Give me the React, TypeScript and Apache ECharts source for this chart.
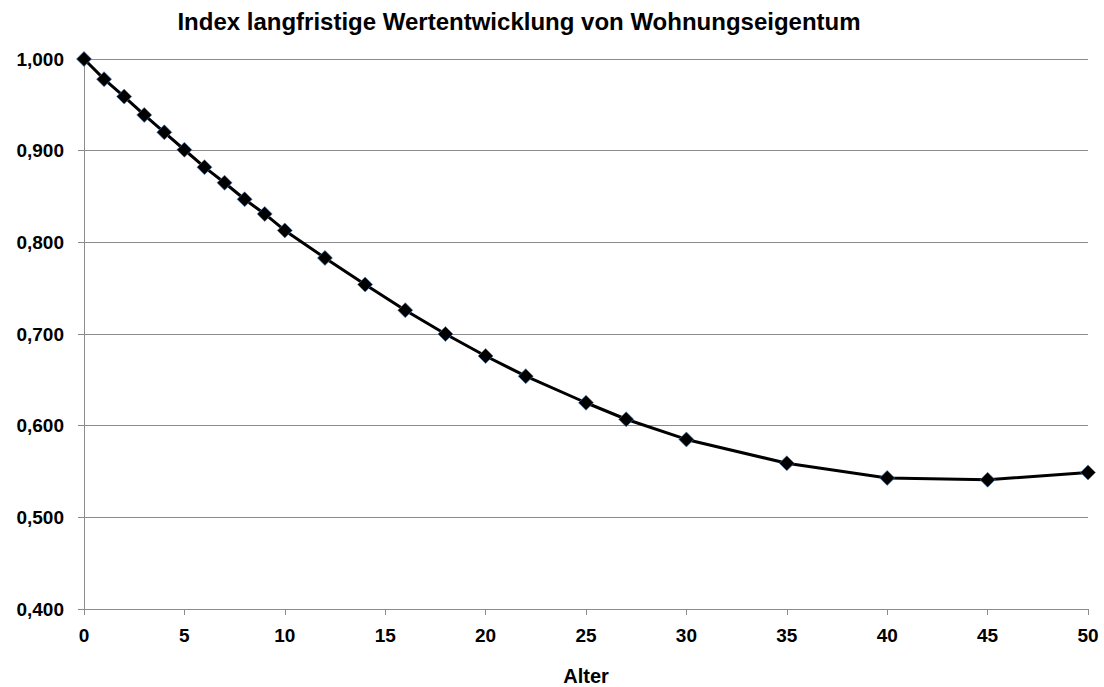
import React, { useEffect, useRef } from "react";
import * as echarts from "echarts";

const titleText = "Index langfristige Wertentwicklung von Wohnungseigentum";
const xAxisName = "Alter";
const ages = [0, 1, 2, 3, 4, 5, 6, 7, 8, 9, 10, 12, 14, 16, 18, 20, 22, 25, 27, 30, 35, 40, 45, 50];
const indexValues = [
  1.0, 0.978, 0.959, 0.939, 0.92, 0.901, 0.882, 0.865, 0.847, 0.831, 0.813,
  0.783, 0.754, 0.726, 0.7, 0.676, 0.654, 0.625, 0.607, 0.585, 0.559, 0.543, 0.541, 0.549,
];

export default function App() {
  const ref = useRef<HTMLDivElement>(null);
  useEffect(() => {
    if (!ref.current) return;
    const chart = echarts.init(ref.current, undefined, { renderer: "svg" });
    const font = "'Liberation Sans', Arial, sans-serif";
    chart.setOption({
      animation: false,
      backgroundColor: "#ffffff",
      graphic: [
        {
          type: "text",
          x: 519,
          y: 9,
          style: {
            text: titleText,
            font: "bold 24px 'Liberation Sans', Arial, sans-serif",
            fill: "#000",
            textAlign: "center",
            textVerticalAlign: "top",
          },
        },
      ],
      grid: { left: 84, right: 16, top: 59, bottom: 78, containLabel: false, outerBoundsMode: "none" },
      xAxis: {
        type: "value",
        min: 0,
        max: 50,
        interval: 5,
        name: xAxisName,
        nameLocation: "middle",
        nameGap: 57,
        nameTextStyle: { fontFamily: font, fontWeight: "bold", fontSize: 20, lineHeight: 20, color: "#000" },
        axisLine: { show: true, lineStyle: { color: "#8c8c8c", width: 1 } },
        axisTick: { show: true, length: 6, lineStyle: { color: "#8c8c8c" } },
        axisLabel: { margin: 17, fontFamily: font, fontWeight: "bold", fontSize: 19, color: "#000" },
        splitLine: { show: false },
      },
      yAxis: {
        type: "value",
        min: 0.4,
        max: 1.0,
        interval: 0.1,
        axisLine: { show: true, lineStyle: { color: "#8c8c8c", width: 1 } },
        axisTick: { show: true, length: 6, lineStyle: { color: "#8c8c8c" } },
        axisLabel: {
          margin: 20,
          fontFamily: font,
          fontWeight: "bold",
          fontSize: 19,
          color: "#000",
          formatter: (v: number) => v.toFixed(3).replace(".", ","),
        },
        splitLine: { show: true, lineStyle: { color: "#8c8c8c", width: 1 } },
      },
      series: [
        {
          type: "line",
          data: ages.map((a, i) => [a, indexValues[i]]),
          symbol: "diamond",
          symbolSize: 15,
          lineStyle: { color: "#000", width: 3 },
          itemStyle: { color: "#000", borderColor: "#4a7ebb", borderWidth: 0.6 },
        },
      ],
    });
    return () => chart.dispose();
  }, []);
  return (
    <div
      ref={ref}
      style={{ position: "fixed", left: 0, top: 0, width: 1104, height: 687 }}
    />
  );
}
